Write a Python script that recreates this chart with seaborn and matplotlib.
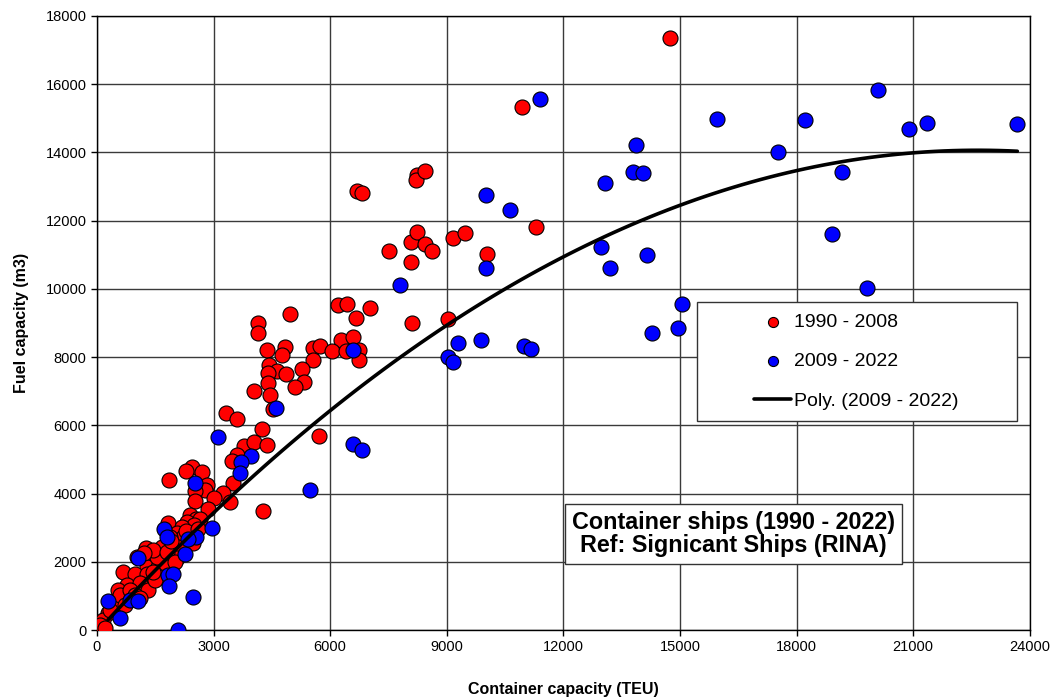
import numpy as np
import pandas as pd
import matplotlib
matplotlib.use("Agg")
import matplotlib.pyplot as plt
import matplotlib.patches as patches
import seaborn as sns

# Container ships 1990 - 2008 (TEU, fuel m3)
red_teu = [14740, 10930, 6680, 6810, 8230, 8200, 8430, 7510, 8070, 8230, 8430, 8610,
           8070, 9150, 9460, 10030, 11290, 8100, 9020, 6200, 6430, 7020, 4960, 4140,
           4140, 6660, 6270, 6580, 4370, 4830, 4760, 5550, 5730, 5550, 6040, 6400,
           6740, 6740, 4420, 4630, 4400, 4860, 5270, 5320, 5090, 4400, 4040, 4450,
           4520, 3320, 3600, 4240, 5710, 3780, 4040, 4370, 3600, 3470, 2440, 2290,
           2700, 1850, 2830, 2780, 2520, 3500, 3240, 3010, 3420, 2520, 2850, 4270,
           2390, 2550, 2310, 1830, 2650, 2490, 2190, 2060, 2210, 2470, 2080, 1880,
           1670, 1260, 1360, 1030, 1290, 1570, 670, 980, 1290, 1670, 2060, 1750,
           770, 1110, 1310, 540, 670, 390, 460, 280, 150, 80, 210, 1540,
           1440, 1800, 330, 590, 850, 980, 720, 1110, 1490, 1200, 1900, 2300,
           2600, 2000, 1450]
red_fuel = [17350, 15340, 12870, 12820, 13340, 13200, 13460, 11110, 11380, 11670, 11320, 11110,
            10790, 11500, 11640, 11030, 11820, 9000, 9120, 9530, 9560, 9440, 9270, 9000,
            8710, 9150, 8500, 8590, 8210, 8300, 8060, 8270, 8330, 7920, 8180, 8180,
            8210, 7920, 7770, 7600, 7540, 7510, 7650, 7270, 7130, 7240, 7010, 6890,
            6480, 6360, 6190, 5890, 5690, 5400, 5510, 5430, 5130, 4960, 4780, 4660,
            4630, 4400, 4250, 4110, 4080, 4310, 4020, 3870, 3750, 3780, 3550, 3490,
            3370, 3260, 3170, 3140, 3260, 3080, 3020, 2840, 2730, 2550, 2430, 2730,
            2430, 2400, 2140, 2140, 1850, 1850, 1700, 1640, 1640, 1550, 2110, 1960,
            1320, 1380, 1170, 1170, 880, 820, 650, 500, 290, 150, 60, 2140,
            2350, 2290, 590, 1030, 1170, 1030, 730, 940, 1470, 2250, 2600, 2900,
            2950, 2000, 1700]

# Container ships 2009 - 2022
blue_teu = [11390, 15960, 18230, 20100, 20900, 21360, 23680, 17510, 13880, 13780, 14060, 13080,
            19180, 18920, 19820, 12980, 13190, 14160, 15040, 14960, 14270, 10000, 10620, 10000,
            9280, 9870, 9020, 9150, 11000, 11160, 7790, 6580, 4600, 3110, 6580, 6810,
            5480, 3960, 3700, 3680, 2520, 2960, 1720, 1800, 1050, 2260, 2540, 2340,
            1830, 1950, 1850, 2470, 280, 850, 1050, 590, 2080]
blue_fuel = [15570, 14990, 14960, 15840, 14690, 14870, 14840, 14020, 14220, 13430, 13410, 13110,
             13420, 11610, 10030, 11230, 10620, 11000, 9560, 8860, 8710, 12760, 12320, 10600,
             8420, 8500, 8010, 7860, 8330, 8240, 10120, 8210, 6510, 5660, 5450, 5280,
             4110, 5100, 4930, 4600, 4310, 2990, 2960, 2730, 2110, 2230, 2730, 2670,
             1610, 1640, 1290, 970, 850, 880, 850, 350, 0]

old = pd.DataFrame({"teu": red_teu, "fuel": red_fuel})
new = pd.DataFrame({"teu": blue_teu, "fuel": blue_fuel})

sns.set_style("ticks")
plt.rcParams["font.family"] = ["Liberation Sans", "DejaVu Sans"]
plt.rcParams["text.color"] = "black"
plt.rcParams["axes.labelcolor"] = "black"
plt.rcParams["xtick.color"] = "black"
plt.rcParams["ytick.color"] = "black"

fig = plt.figure(figsize=(10.54, 6.97), dpi=100)
ax = fig.add_axes([0.092, 0.0961, 0.885, 0.881])

sns.scatterplot(data=old, x="teu", y="fuel", color="red", s=117, edgecolor="black",
                linewidth=0.8, label="1990 - 2008", ax=ax, zorder=3)
sns.scatterplot(data=new, x="teu", y="fuel", color="blue", s=117, edgecolor="black",
                linewidth=0.8, label="2009 - 2022", ax=ax, zorder=3)
# 2nd order trendline fitted on the 2009-2022 ships
sns.regplot(data=new, x="teu", y="fuel", order=2, ci=None, scatter=False, truncate=True,
            line_kws={"color": "black", "lw": 2.6, "zorder": 4}, ax=ax)
ax.lines[-1].set_label("Poly. (2009 - 2022)")

ax.set_xlim(0, 24000)
ax.set_ylim(0, 18000)
ax.set_xticks(np.arange(0, 24001, 3000))
ax.set_yticks(np.arange(0, 18001, 2000))
ax.grid(True, color="#3a3a3a", lw=1.0)
ax.set_axisbelow(True)
for sp in ax.spines.values():
    sp.set_color("black")
    sp.set_linewidth(1.0)
ax.tick_params(direction="out", length=4, width=1, labelsize=10.5, colors="black")

ax.set_xlabel("Container capacity (TEU)", fontsize=11.5, fontweight="bold", labelpad=20)
ax.set_ylabel("Fuel capacity (m3)", fontsize=11.5, fontweight="bold", labelpad=12)

# legend box
box = patches.Rectangle((0.643, 0.340), 0.343, 0.194, transform=ax.transAxes,
                        facecolor="white", edgecolor="#333333", lw=1.0, zorder=5)
ax.add_patch(box)
handles, labels = ax.get_legend_handles_labels()
leg = ax.legend(handles, labels, frameon=False, loc="center", bbox_to_anchor=(0.814, 0.437),
                fontsize=14, markerscale=0.67, labelspacing=1.12, handlelength=1.9,
                handletextpad=0.15)
leg.set_zorder(6)

ax.text(0.682, 0.156, "Container ships (1990 - 2022)\nRef: Signicant Ships (RINA)",
        transform=ax.transAxes, ha="center", va="center", fontsize=16.8, fontweight="bold",
        linespacing=1.0, zorder=6,
        bbox=dict(boxstyle="square,pad=0.3", facecolor="white", edgecolor="#333333", lw=1.0))

fig.savefig("out.png", dpi=100)
